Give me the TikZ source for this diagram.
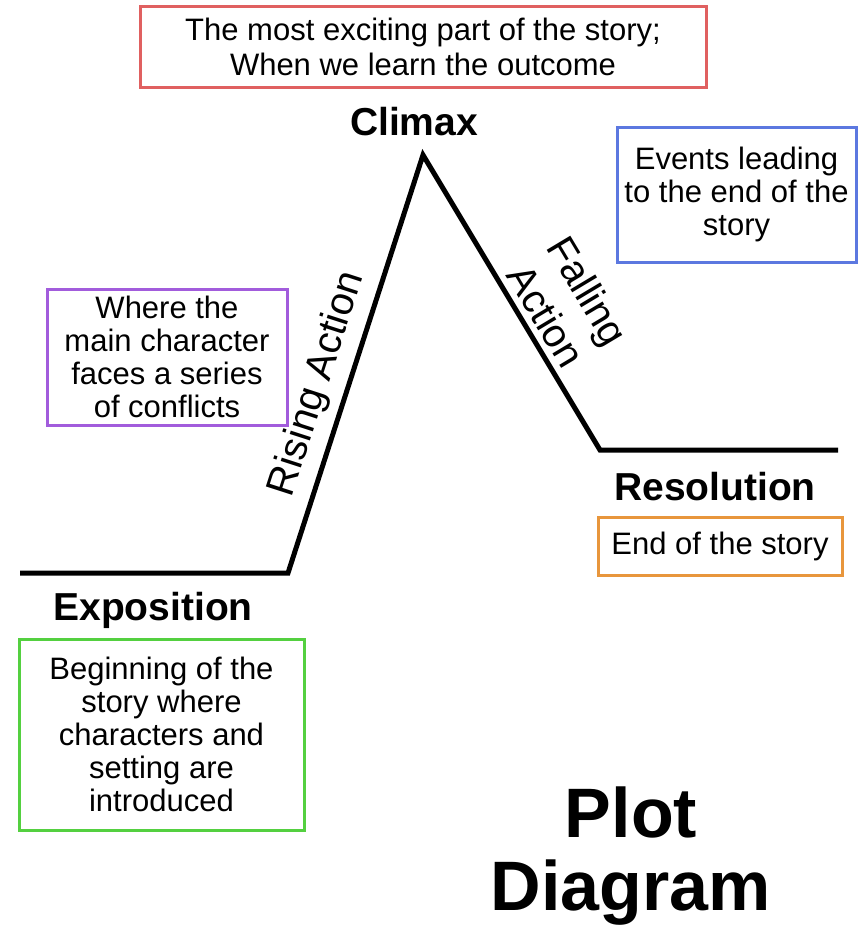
\documentclass[tikz,border=0pt]{standalone}
\usepackage{fontspec}
\setmainfont{Liberation Sans}
\usetikzlibrary{positioning}
\definecolor{climaxred}{RGB}{224,96,96}
\definecolor{fallblue}{RGB}{92,120,224}
\definecolor{risepurple}{RGB}{162,92,220}
\definecolor{expogreen}{RGB}{84,208,64}
\definecolor{resorange}{RGB}{232,150,60}
\newcommand{\boxText}[0]{\fontsize{31}{33}\selectfont}
\newcommand{\stageText}[0]{\fontsize{39}{44}\selectfont\bfseries}
\newcommand{\slopeText}[0]{\fontsize{40}{49}\selectfont}

\begin{document}
\begin{tikzpicture}[x=1pt, y=-1pt]
  \tikzset{every node/.style={inner sep=0pt},
    infobox/.style={draw, line width=3pt, align=center, font=\boxText},
    stage/.style={anchor=base, font=\stageText}}
  \useasboundingbox (0,0) rectangle (860,926);
  % the plot line
  \coordinate (expoStart) at (20,573);
  \coordinate (riseStart) at (288,573);
  \coordinate (peak) at (423,155);
  \coordinate (fallEnd) at (600,450);
  \coordinate (resEnd) at (838,450);
  \draw[line width=5pt] (expoStart) -- (riseStart) -- (peak) -- (fallEnd) -- (resEnd);
  \path (riseStart) -- (peak)
    node[pos=0.43, sloped, above=11pt, font=\slopeText] (rising) {Rising Action};
  \path (peak) -- (fallEnd)
    node[pos=0.585, sloped, above=8pt, align=center, font=\slopeText] (falling) {Falling\\Action};
  % stage names
  \node[stage] (climax) at (414,135) {Climax};
  \node[stage] (expo) at (153,620) {Exposition};
  \node[stage] (resol) at (715,500) {Resolution};
  % what each stage is
  \node[infobox, draw=climaxred, minimum width=566pt, minimum height=81pt,
    font=\fontsize{31}{35}\selectfont] (climaxBox) at (423,46.5)
    {The most exciting part of the story;\\When we learn the outcome};
  \node[infobox, draw=fallblue, minimum width=239pt, minimum height=135pt] (fallBox) at (736.5,194.5)
    {Events leading\\to the end of the\\story};
  \node[infobox, draw=risepurple, minimum width=240pt, minimum height=136pt] (riseBox) at (167,357)
    {Where the\\main character\\faces a series\\of conflicts};
  \node[infobox, draw=expogreen, minimum width=285pt, minimum height=191pt] (expoBox) at (161.5,734.5)
    {Beginning of the\\story where\\characters and\\setting are\\introduced};
  \node[infobox, draw=resorange, minimum width=244pt, minimum height=58pt] (resolBox) at (720,546)
    {End of the story};
  % title
  \node[align=center, font=\fontsize{70}{73}\selectfont\bfseries] (title) at (631,856) {Plot\\Diagram};
\end{tikzpicture}
\end{document}
